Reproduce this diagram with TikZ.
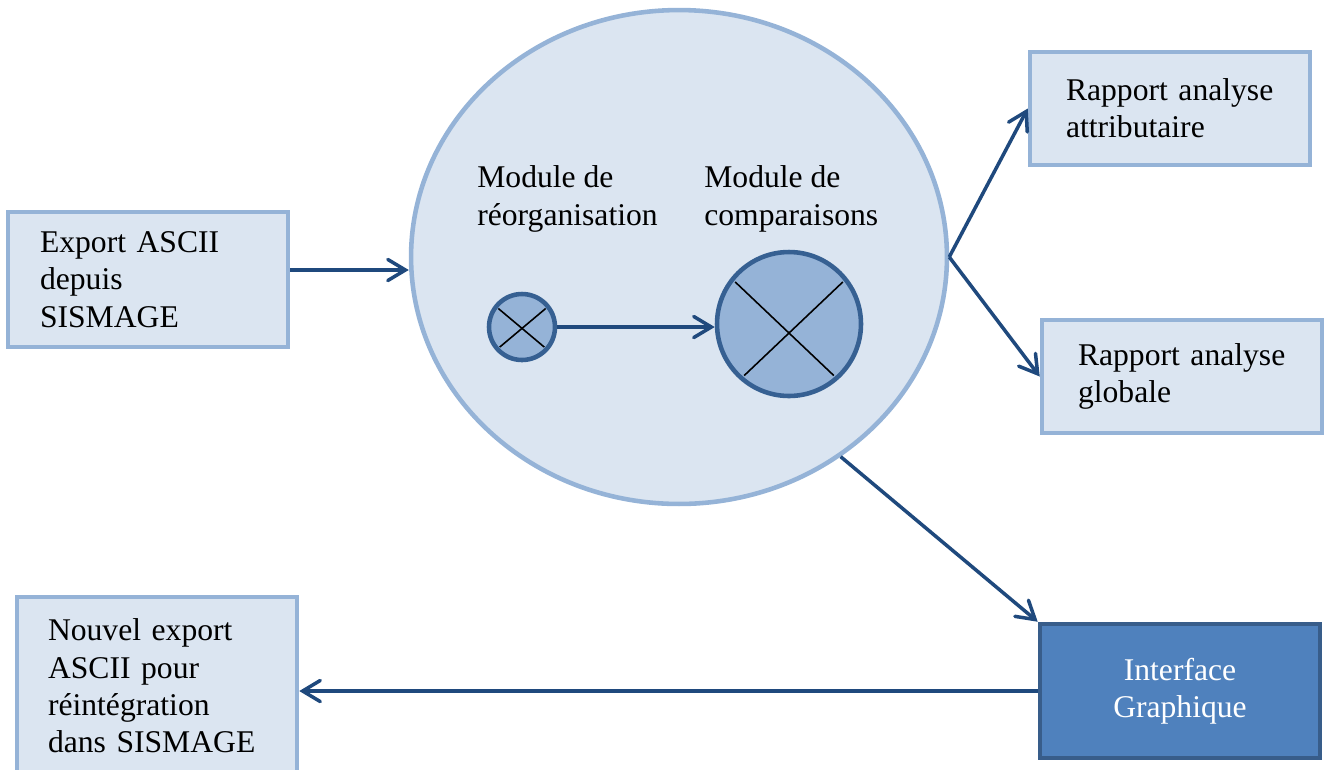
\documentclass[tikz,border=0pt]{standalone}
\usepackage{fontspec}
\setmainfont{Liberation Serif}
\usepackage{tikz}
\usetikzlibrary{arrows.meta,calc,shapes.geometric}
\definecolor{boxFill}{HTML}{DBE5F1}
\definecolor{boxEdge}{HTML}{95B3D7}
\definecolor{circEdge}{HTML}{366092}
\definecolor{flowBlue}{HTML}{1F497D}
\definecolor{guiFill}{HTML}{4F81BD}
\definecolor{guiEdge}{HTML}{385D8A}
\tikzset{
  infobox/.style = {rectangle, draw=boxEdge, fill=boxFill, line width=2.6pt,
                    minimum width=5.6cm, align=left,
                    font=\fontsize{18}{21.2}\selectfont},
  guibox/.style = {rectangle, draw=guiEdge, fill=guiFill, line width=2.6pt,
                   minimum width=5.6cm, align=center, text=white,
                   font=\fontsize{18}{21.2}\selectfont},
  modcircle/.style = {circle, draw=circEdge, fill=boxEdge, line width=2.6pt, inner sep=0pt},
  modlabel/.style = {anchor=west, align=left, inner sep=0pt,
                     font=\fontsize{18}{21.2}\selectfont},
  crossline/.style = {black, line width=0.9pt},
  flow/.style = {->, flowBlue, line width=2pt},
}

\begin{document}
\begin{tikzpicture}[x=0.02cm,y=-0.02cm,>={Straight Barb[length=10pt,width=12pt,line cap=round]}]

  \path[use as bounding box, clip] (0,0) rectangle (1325,769);

  % === Main module ===
  \node[ellipse, draw=boxEdge, fill=boxFill, line width=2.6pt,
        minimum width=10.72cm, minimum height=9.88cm] (mod) at (679,257) {};

  \node[modlabel] (lreorg) at (477,199) {Module de\\réorganisation};
  \node[modlabel] (lcomp) at (704,199) {Module de\\comparaisons};

  \node[modcircle, minimum size=1.32cm] (reorg) at (522,327) {};
  \node[modcircle, minimum size=2.88cm] (comp) at (789,324) {};

  % Crosses
  \draw[crossline] ($(reorg)!0.85!(reorg.142)$) -- ($(reorg)!0.85!(reorg.-42)$);
  \draw[crossline] ($(reorg)!0.85!(reorg.38)$) -- ($(reorg)!0.85!(reorg.222)$);
  \draw[crossline] ($(comp)!0.92!(comp.142)$) -- ($(comp)!0.92!(comp.-49)$);
  \draw[crossline] ($(comp)!0.92!(comp.38)$) -- ($(comp)!0.92!(comp.229)$);

  \draw[flow] (reorg.east) -- (reorg.east -| comp.west);

  % === Inputs / outputs ===
  \node[infobox, inner xsep=0.64cm, text width=4.32cm, minimum height=2.7cm] (exp) at (148,279.5)
    {Export ASCII\\depuis\\SISMAGE};

  \node[infobox, inner xsep=0.72cm, text width=4.16cm, minimum height=2.26cm] (att) at (1170,108.5)
    {Rapport analyse\\attributaire};

  \node[infobox, inner xsep=0.72cm, text width=4.16cm, minimum height=2.26cm] (glob) at (1182,376.5)
    {Rapport analyse\\globale};

  \node[guibox, minimum height=2.68cm] (gui) at (1180,691)
    {Interface\\Graphique};

  \node[infobox, inner xsep=0.62cm, text width=4.36cm, minimum height=3.56cm] (new) at (157,686)
    {Nouvel export\\ASCII pour\\réintégration\\dans SISMAGE};

  % Edges
  \draw[flow] ([yshift=0.19cm]exp.east) -- ([yshift=0.19cm]exp.east -| mod.west);
  \draw[flow] (mod.east) -- (att.west);
  \draw[flow] (mod.east) -- (glob.west);
  \draw[flow] (mod.-51) -- (gui.north west);
  \draw[flow] (gui.west) -- (gui.west -| new.east);

\end{tikzpicture}
\end{document}
